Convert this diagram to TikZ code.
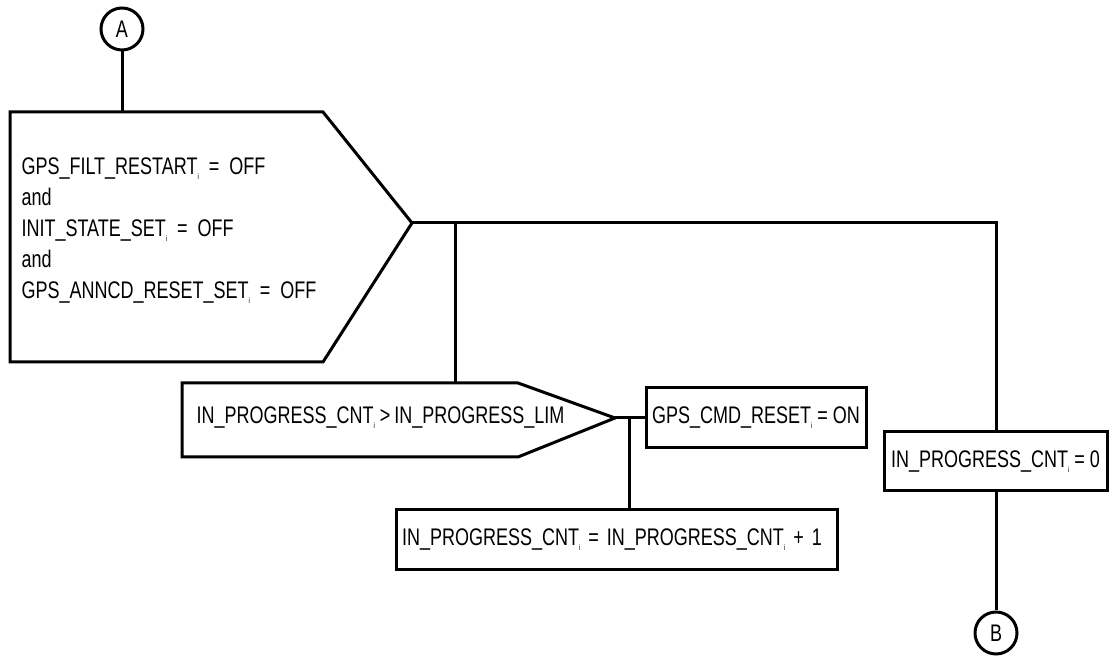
\documentclass[tikz,border=0pt]{standalone}
\usepackage{fontspec}
\setmainfont{Liberation Sans}[FakeStretch=0.75]
\usepackage{tikz}
\newcommand{\sbi}{\raisebox{-5pt}{\fontsize{8}{8}\selectfont i}}
\tikzset{
  flow/.style={line width=3pt},
  actbox/.style={draw,line width=3pt,rectangle,inner sep=0pt,font=\fontsize{24}{24}\selectfont},
  conn/.style={draw,line width=3pt,circle,minimum size=42pt,inner sep=0pt,font=\fontsize{24}{24}\selectfont}
}

\begin{document}
\begin{tikzpicture}[x=1pt,y=1pt]
\path[use as bounding box] (0,0) rectangle (1111,656);
\fill[white] (0,0) rectangle (1111,656);
% connectors A and B
\node[conn] (conA) at (122,627) {A};
\node[conn] (conB) at (996,23) {B};
% first decision
\coordinate (condN) at (122,544);
\coordinate (condTip) at (412,433);
\draw[flow,line join=miter] (10,544) -- (323,544) -- (condTip) -- (323,294) -- (10,294) -- cycle;
\node[anchor=west,align=left,font=\fontsize{24}{31}\selectfont] (cond) at (18,425)
  {GPS\_FILT\_RESTART\sbi~~=~~OFF\\and\\INIT\_STATE\_SET\sbi~~=~~OFF\\and\\GPS\_ANNCD\_RESET\_SET\sbi~~=~~OFF};
% second decision
\coordinate (chkN) at (455,273);
\coordinate (chkTip) at (615,238);
\draw[flow,line join=miter] (182,273) -- (518,273) -- (chkTip) -- (518,199) -- (182,199) -- cycle;
\node[anchor=west,font=\fontsize{24}{24}\selectfont] (chk) at (193,238)
  {IN\_PROGRESS\_CNT\sbi\ >\,IN\_PROGRESS\_LIM};
% actions
\node[actbox,minimum width=220pt,minimum height=60pt] (reset) at (756,238) {GPS\_CMD\_RESET\sbi\ = ON};
\node[actbox,inner xsep=6pt,text width=429pt,align=left,minimum height=60pt] (incr) at (616.5,116)
  {IN\_PROGRESS\_CNT\sbi\ = IN\_PROGRESS\_CNT\sbi\ + 1};
\node[actbox,minimum width=223pt,minimum height=59pt] (cnt0) at (995.5,194.5) {IN\_PROGRESS\_CNT\sbi\ = 0};
% junctions
\coordinate (jM) at (455,433);
\coordinate (jR) at (996,433);
\coordinate (jC) at (629,238);
\draw[flow] (conA) -- (condN);
\draw[flow] (condTip) -- (jR) -- (jR |- cnt0.north);
\draw[flow] (jM) -- (chkN);
\draw[flow] (chkTip) -- (reset.west);
\draw[flow] (jC) -- (jC |- incr.north);
\draw[flow] (cnt0.south -| conB) -- (conB);
\end{tikzpicture}
\end{document}
